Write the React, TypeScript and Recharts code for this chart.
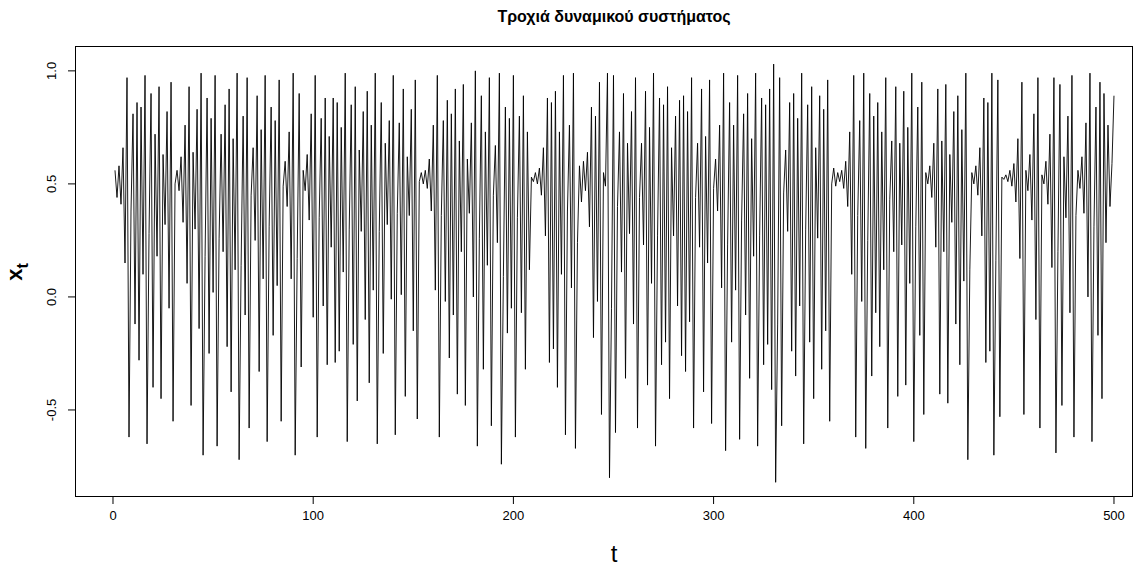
import React from 'react';
import { LineChart, Line, XAxis, YAxis } from 'recharts';

// values, t = 1..500
const X_VALUES = [
  0.56, 0.44, 0.58, 0.41, 0.66, 0.15, 0.97, -0.62, 0.38, 0.81, -0.12, 0.86, -0.28, 0.84, 0.10, 0.98, -0.65, 0.28, 0.90, -0.40, 0.72, 0.18, 0.93, -0.45, 0.63,
  0.32, 0.82, -0.05, 0.95, -0.55, 0.50, 0.56, 0.47, 0.62, 0.33, 0.76, 0.06, 0.93, -0.48, 0.64, 0.30, 0.83, -0.14, 0.99, -0.70, 0.18, 0.88, -0.25, 0.79, 0.02,
  0.98, -0.66, 0.26, 0.72, 0.20, 0.85, -0.22, 0.92, -0.42, 0.70, 0.12, 0.99, -0.72, 0.14, 0.80, -0.08, 0.97, -0.58, 0.45, 0.66, 0.25, 0.89, -0.33, 0.74, 0.08,
  0.98, -0.64, 0.31, 0.84, -0.17, 0.78, 0.05, 0.96, -0.55, 0.49, 0.60, 0.40, 0.73, 0.08, 0.99, -0.70, 0.17, 0.90, -0.31, 0.56, 0.47, 0.63, 0.34, 0.81, -0.09,
  0.98, -0.62, 0.35, 0.79, -0.04, 0.88, -0.30, 0.71, 0.22, 0.88, -0.29, 0.86, -0.24, 0.75, 0.11, 0.99, -0.64, 0.30, 0.85, -0.21, 0.93, -0.46, 0.65, 0.29, 0.82,
  -0.10, 0.91, -0.38, 0.76, 0.03, 0.99, -0.65, 0.29, 0.86, -0.25, 0.68, 0.32, 0.78, -0.01, 0.98, -0.61, 0.37, 0.77, 0.01, 0.92, -0.44, 0.62, 0.36, 0.83, -0.15,
  0.96, -0.54, 0.51, 0.55, 0.50, 0.56, 0.48, 0.61, 0.38, 0.76, 0.03, 0.98, -0.62, 0.36, 0.78, -0.02, 0.87, -0.27, 0.81, -0.08, 0.92, -0.43, 0.69, 0.20, 0.94,
  -0.48, 0.61, 0.37, 0.77, 0.00, 1.00, -0.66, 0.26, 0.89, -0.32, 0.73, 0.14, 0.97, -0.57, 0.45, 0.67, 0.24, 0.99, -0.74, 0.09, 0.84, -0.16, 0.79, -0.05, 0.98,
  -0.62, 0.35, 0.80, -0.07, 0.89, -0.32, 0.73, 0.12, 0.53, 0.51, 0.55, 0.50, 0.57, 0.45, 0.66, 0.27, 0.88, -0.29, 0.86, -0.23, 0.91, -0.40, 0.73, 0.10, 0.98,
  -0.61, 0.38, 0.76, 0.04, 0.99, -0.67, 0.24, 0.58, 0.42, 0.60, 0.47, 0.64, 0.31, 0.84, -0.18, 0.80, -0.02, 0.95, -0.52, 0.55, 0.49, 0.99, -0.80, -0.05, 0.98,
  -0.60, 0.40, 0.73, 0.11, 0.90, -0.36, 0.68, 0.28, 0.82, -0.12, 0.97, -0.58, 0.44, 0.68, 0.23, 0.91, -0.39, 0.75, 0.06, 0.99, -0.66, 0.27, 0.88, -0.30, 0.85,
  -0.20, 0.93, -0.45, 0.66, 0.27, 0.80, -0.04, 0.87, -0.26, 0.89, -0.33, 0.82, -0.11, 0.97, -0.58, 0.44, 0.68, 0.22, 0.92, -0.42, 0.71, 0.15, 0.96, -0.56, 0.48,
  0.61, 0.38, 0.76, 0.04, 0.99, -0.68, 0.23, 0.86, -0.20, 0.76, 0.03, 0.98, -0.63, 0.34, 0.81, -0.08, 0.90, -0.36, 0.70, 0.18, 0.99, -0.66, 0.27, 0.88, -0.30,
  0.85, -0.21, 0.92, -0.41, 1.03, -0.82, -0.12, 0.97, -0.57, 0.46, 0.65, 0.29, 0.86, -0.24, 0.90, -0.35, 0.79, -0.04, 0.99, -0.65, 0.30, 0.85, -0.20, 0.93, -0.45,
  0.66, 0.26, 0.89, -0.32, 0.83, -0.15, 0.96, -0.55, 0.50, 0.57, 0.49, 0.55, 0.51, 0.56, 0.48, 0.60, 0.40, 0.73, 0.10, 0.98, -0.62, 0.36, 0.78, -0.02, 0.99,
  -0.67, 0.25, 0.90, -0.35, 0.80, -0.07, 0.86, -0.22, 0.73, 0.12, 0.97, -0.58, 0.43, 0.69, 0.20, 0.93, -0.44, 0.68, 0.23, 0.91, -0.39, 0.75, 0.06, 0.99, -0.64,
  0.31, 0.84, -0.17, 0.95, -0.52, 0.55, 0.50, 0.58, 0.44, 0.68, 0.22, 0.92, -0.43, 0.69, 0.20, 0.94, -0.47, 0.63, 0.33, 0.82, -0.12, 0.89, -0.30, 0.74, 0.07,
  0.99, -0.72, 0.12, 0.55, 0.50, 0.58, 0.45, 0.66, 0.27, 0.88, -0.29, 0.86, -0.24, 0.99, -0.70, 0.16, 0.96, -0.53, 0.53, 0.52, 0.54, 0.51, 0.56, 0.49, 0.59,
  0.42, 0.70, 0.17, 0.95, -0.52, 0.56, 0.47, 0.63, 0.34, 0.81, -0.10, 0.97, -0.58, 0.54, 0.50, 0.60, 0.41, 0.72, 0.13, 0.97, -0.69, 0.20, 0.94, -0.48, 0.62,
  0.35, 0.80, -0.07, 0.98, -0.62, 0.36, 0.56, 0.48, 0.62, 0.37, 0.77, 0.00, 0.99, -0.64, 0.31, 0.84, -0.17, 0.95, -0.45, 0.90, 0.24, 0.76, 0.40, 0.59, 0.89,
];

const X_TICKS = [0, 100, 200, 300, 400, 500];
const Y_TICKS = [-0.5, 0, 0.5, 1];

const data = X_VALUES.map((v, i) => ({ t: i + 1, x: v }));

const FONT = '"Liberation Sans", Arial, sans-serif';

const YTick = ({ x, y, payload }: any) => (
  <text
    x={x - 10}
    y={y}
    transform={`rotate(-90, ${x - 10}, ${y})`}
    textAnchor="middle"
    fontSize={13}
    fontFamily={FONT}
    fill="#000"
  >
    {payload.value.toFixed(1)}
  </text>
);

const XTick = ({ x, y, payload }: any) => (
  <text x={x} y={y + 14} textAnchor="middle" fontSize={13} fontFamily={FONT} fill="#000">
    {payload.value}
  </text>
);

export default function App() {
  return (
    <div style={{ position: 'absolute', left: 0, top: 0, width: 1145, height: 567, background: '#fff' }}>
      <LineChart width={1145} height={567} data={data} margin={{ top: 46, right: 12, left: 0, bottom: 0 }}>
        <XAxis
          dataKey="t"
          type="number"
          domain={[-18.98, 509.5]}
          ticks={X_TICKS}
          allowDataOverflow
          height={70}
          axisLine={false}
          tickLine={{ stroke: '#000' }}
          tickSize={7}
          tick={<XTick />}
        />
        <YAxis
          type="number"
          domain={[-0.885, 1.11]}
          ticks={Y_TICKS}
          allowDataOverflow
          width={75}
          axisLine={false}
          tickLine={{ stroke: '#000' }}
          tickSize={7}
          tick={<YTick />}
        />
        <Line
          dataKey="x"
          type="linear"
          stroke="#000"
          strokeWidth={0.9}
          dot={false}
          isAnimationActive={false}
        />
      </LineChart>
      {/* plot frame */}
      <div style={{ position: 'absolute', left: 75, top: 46, width: 1058, height: 451, border: '1px solid #000', boxSizing: 'border-box', pointerEvents: 'none' }} />
      <svg width={1145} height={567} style={{ position: 'absolute', left: 0, top: 0, pointerEvents: 'none' }}>
        <text x={614} y={22} textAnchor="middle" fontSize={16} fontWeight="bold" fontFamily={FONT} fill="#000">
          Τροχιά δυναμικού συστήματος
        </text>
        <text x={614} y={562} textAnchor="middle" fontSize={24} fontFamily={FONT} fill="#000">t</text>
        <text transform="rotate(-90, 22, 272)" x={22} y={272} textAnchor="middle" fontSize={22} fontWeight="bold" fontFamily={FONT} fill="#000">
          x<tspan fontSize={16} dy={6}>t</tspan>
        </text>
      </svg>
    </div>
  );
}
